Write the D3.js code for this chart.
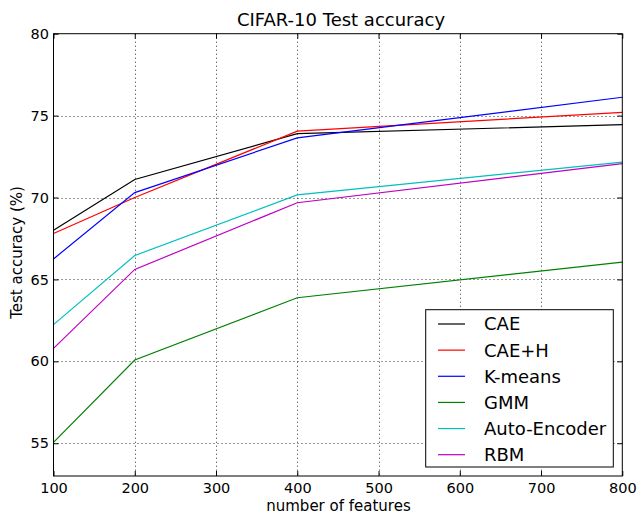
<!DOCTYPE html>
<html><head><meta charset="utf-8">
<script src="https://cdn.jsdelivr.net/npm/d3@7"></script>
<style>body{margin:0;background:#fff}svg{display:block}text{font-family:"DejaVu Sans",sans-serif;fill:#000}</style>
</head><body>
<svg id="c" width="638" height="514"></svg>
<script>
const features = [100, 200, 400, 800];
const seriesNames = ["CAE", "CAE+H", "K-means", "GMM", "Auto-Encoder", "RBM"];
const seriesColors = ["#000000", "#ff0000", "#0000ff", "#008000", "#00bfbf", "#bf00bf"];
const caeValues = [68.0, 71.1, 73.9, 74.45];
const caeHValues = [67.8, 70.0, 74.05, 75.2];
const kmeansValues = [66.25, 70.3, 73.64, 76.12];
const gmmValues = [55.05, 60.08, 63.88, 66.06];
const autoEncoderValues = [62.24, 66.46, 70.16, 72.16];
const rbmValues = [60.79, 65.61, 69.68, 72.07];
const xTicks = [100, 200, 300, 400, 500, 600, 700, 800];
const yTicks = [55, 60, 65, 70, 75, 80];
const allValues = [caeValues, caeHValues, kmeansValues, gmmValues, autoEncoderValues, rbmValues];

const svg = d3.select("#c");
const L = 53.5, R = 622.3, T = 33.7, B = 476;
const x = d3.scaleLinear().domain([100, 800]).range([L, R]);
const y = d3.scaleLinear().domain([53, 80]).range([B, T]);

// grid
const g = svg.append("g");
g.selectAll(".gx").data(xTicks.slice(1, -1)).join("line")
  .attr("x1", d => Math.round(x(d)) + 0.5).attr("x2", d => Math.round(x(d)) + 0.5)
  .attr("y1", T).attr("y2", B).attr("stroke", "#000").attr("stroke-width", 1)
  .attr("stroke-dasharray", "1,3").attr("opacity", 0.8);
g.selectAll(".gy").data(yTicks.slice(0, -1)).join("line")
  .attr("y1", d => Math.round(y(d)) + 0.5).attr("y2", d => Math.round(y(d)) + 0.5)
  .attr("x1", L).attr("x2", R).attr("stroke", "#000").attr("stroke-width", 1)
  .attr("stroke-dasharray", "1,3").attr("opacity", 0.8);

// lines
const line = d3.line().x((d, i) => x(features[i])).y(d => y(d));
svg.append("g").selectAll("path").data(allValues).join("path")
  .attr("d", d => line(d)).attr("fill", "none")
  .attr("stroke", (d, i) => seriesColors[i]).attr("stroke-width", 1.2);

// axes ticks (inward, all sides)
const ax = svg.append("g");
const xb = d3.axisBottom(x).tickValues(xTicks).tickSize(-5).tickPadding(6.5).tickFormat(d3.format("d"));
const xt = d3.axisTop(x).tickValues(xTicks).tickSize(-5).tickFormat("");
const yl = d3.axisLeft(y).tickValues(yTicks).tickSize(-5).tickPadding(4.5).tickFormat(d3.format("d"));
const yr = d3.axisRight(y).tickValues(yTicks).tickSize(-5).tickFormat("");
[[xb, `translate(0,${B})`], [xt, `translate(0,${T})`], [yl, `translate(${L},0)`], [yr, `translate(${R},0)`]].forEach(([a, t]) => {
  const gg = ax.append("g").attr("transform", t).call(a);
  gg.select(".domain").remove();
  gg.selectAll("line").attr("stroke", "#000");
  gg.selectAll("text").attr("font-size", 14.5).attr("font-family", "DejaVu Sans").attr("fill", "#000");
});
svg.append("rect").attr("x", L).attr("y", T).attr("width", R - L).attr("height", B - T)
  .attr("fill", "none").attr("stroke", "#000").attr("stroke-width", 1);

// titles
svg.append("text").attr("x", 341).attr("y", 26).attr("text-anchor", "middle")
  .attr("font-size", 18).text("CIFAR-10 Test accuracy");
svg.append("text").attr("x", 338.5).attr("y", 511).attr("text-anchor", "middle")
  .attr("font-size", 15).text("number of features");
svg.append("text").attr("transform", `translate(21.5,252.5) rotate(-90)`).attr("text-anchor", "middle")
  .attr("font-size", 15).text("Test accuracy (%)");

// legend
const lg = svg.append("g");
lg.append("rect").attr("x", 425.7).attr("y", 309.7).attr("width", 187.6).attr("height", 157.3)
  .attr("fill", "#fff").attr("stroke", "#000").attr("stroke-width", 1);
const ly = d3.scalePoint().domain(seriesNames).range([324, 454.7]);
seriesNames.forEach((n, i) => {
  lg.append("line").attr("x1", 438).attr("x2", 465).attr("y1", ly(n)).attr("y2", ly(n))
    .attr("stroke", seriesColors[i]).attr("stroke-width", 1.2);
  lg.append("text").attr("x", 484).attr("y", ly(n)).attr("dy", "0.36em").attr("font-size", 18).text(n);
});
</script>
</body></html>
